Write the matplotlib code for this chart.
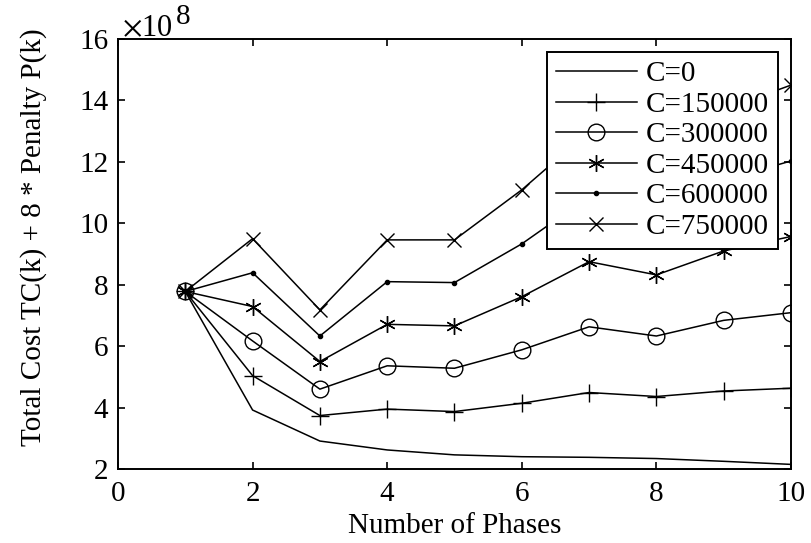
import numpy as np
import matplotlib
matplotlib.use("Agg")
import matplotlib.pyplot as plt

plt.rcParams['font.family'] = ['Liberation Serif', 'DejaVu Serif']
plt.rcParams['mathtext.fontset'] = 'stix'

# number of phases
phases = [1, 2, 3, 4, 5, 6, 7, 8, 9, 10]

# total cost values (x 1e8)
c0      = [7.78, 3.92, 2.91, 2.62, 2.46, 2.40, 2.38, 2.34, 2.25, 2.15]
c150000 = [7.78, 5.04, 3.74, 3.95, 3.87, 4.14, 4.49, 4.36, 4.54, 4.63]
c300000 = [7.78, 6.17, 4.60, 5.36, 5.28, 5.88, 6.63, 6.33, 6.84, 7.09]
c450000 = [7.78, 7.29, 5.50, 6.71, 6.66, 7.61, 8.75, 8.32, 9.10, 9.57]
c600000 = [7.78, 8.39, 6.33, 8.10, 8.07, 9.33, 10.87, 10.30, 11.40, 12.03]
c750000 = [7.78, 9.50, 7.18, 9.46, 9.46, 11.09, 12.99, 12.30, 13.70, 14.50]

labels = ['C=0', 'C=150000', 'C=300000', 'C=450000', 'C=600000', 'C=750000']
series = [c0, c150000, c300000, c450000, c600000, c750000]

# marker style for each series (asterisk = 6 spoke star like matlab's '*')
markers = [None, '+', 'o', (6, 2, 0), 'o', 'x']
msizes = [0, 13, 12, 12, 3, 10]
mfaces = ['none', 'none', 'none', 'none', 'black', 'none']

fig = plt.figure(figsize=(8.12, 5.43), dpi=100)
ax = fig.add_axes([0.1453, 0.1363, 0.8288, 0.7918])

for vals, lab, m, ms, fc in zip(series, labels, markers, msizes, mfaces):
    ax.plot(phases, vals, color='black', linewidth=1.1, marker=m, markersize=ms,
            markerfacecolor=fc, markeredgecolor='black', markeredgewidth=1.0,
            label=lab)

ax.set_xlim(0, 10)
ax.set_ylim(2, 16)
ax.set_xticks([0, 2, 4, 6, 8, 10])
ax.set_yticks([2, 4, 6, 8, 10, 12, 14, 16])

ax.tick_params(direction='in', top=True, right=True, labelsize=21, length=5, width=1.2)
ax.tick_params(axis='x', pad=9)
ax.tick_params(axis='y', pad=7)
for s in ax.spines.values():
    s.set_linewidth(1.4)

ax.set_xlabel('Number of Phases', fontsize=21, labelpad=4)
ax.set_ylabel('Total Cost TC(k) + 8 * Penalty P(k)', fontsize=21)
ax.yaxis.set_label_coords(-0.105, 0.538)

# exponent label above the y axis
fig.text(0.150, 0.933, r'$\times$10', fontsize=22, va='baseline', ha='left')
fig.text(0.217, 0.955, '8', fontsize=21, va='baseline', ha='left')

leg = ax.legend(loc='upper right', fontsize=21, frameon=True, fancybox=False,
                edgecolor='black', handlelength=2.8, borderaxespad=0.45,
                labelspacing=0.14, handletextpad=0.3, borderpad=0.3)
leg.get_frame().set_linewidth(1.4)
leg.get_frame().set_alpha(1)

fig.savefig('out.png', dpi=100)
